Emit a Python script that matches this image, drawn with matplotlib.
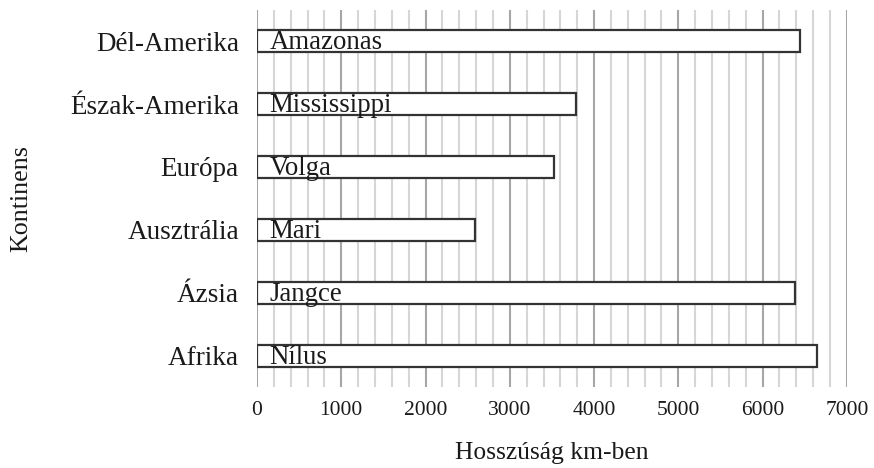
"""Longest rivers by continent, horizontal bar chart"""
import numpy as np
import matplotlib
matplotlib.use('Agg')
import matplotlib.pyplot as plt
from matplotlib.ticker import MultipleLocator

# data, bottom to top
continents = ['Afrika', 'Ázsia', 'Ausztrália', 'Európa', 'Észak-Amerika', 'Dél-Amerika']
rivers = ['Nílus', 'Jangce', 'Mari', 'Volga', 'Mississippi', 'Amazonas']
lengths_km = [6650, 6380, 2590, 3530, 3780, 6440]
x_ticks = [0, 1000, 2000, 3000, 4000, 5000, 6000, 7000]

plt.rcParams['font.family'] = ['Liberation Serif', 'DejaVu Serif']

fig = plt.figure(figsize=(8.74, 4.68), dpi=100, facecolor='white')
ax = fig.add_axes([0.294, 0.173, 0.675, 0.806])

ypos = np.arange(len(continents))
ax.barh(ypos, lengths_km, height=0.35, color='white', edgecolor='#333333',
        linewidth=1.6, zorder=3)

# river names sit on the bottom edge of each bar
for y, name in zip(ypos, rivers):
    ax.text(150, y - 0.13, name, ha='left', va='baseline', fontsize=19.3,
            color='#1a1a1a', zorder=4)

ax.set_xlim(0, 7000)
ax.set_ylim(-0.5, len(continents) - 0.5)
ax.set_xticks(x_ticks)
ax.xaxis.set_minor_locator(MultipleLocator(200))
ax.set_yticks(ypos)
ax.set_yticklabels(continents)

ax.grid(axis='x', which='major', color='#a6a6a6', linewidth=1.5, zorder=0)
ax.grid(axis='x', which='minor', color='#d6d6d6', linewidth=1.5, zorder=0)
ax.set_axisbelow(True)

for s in ax.spines.values():
    s.set_visible(False)

ax.tick_params(axis='x', which='both', length=0, labelsize=15.5, pad=10,
               labelcolor='#1a1a1a')
ax.tick_params(axis='y', length=0, labelsize=19.5, pad=13, labelcolor='#1a1a1a')

ax.set_xlabel('Hosszúság km-ben', fontsize=18.4, labelpad=16, color='#1a1a1a')
ax.set_ylabel('Kontinens', fontsize=18.7, color='#1a1a1a')
ax.yaxis.set_label_coords(-0.381, 0.5)

fig.savefig('out.png', dpi=100, facecolor='white')
